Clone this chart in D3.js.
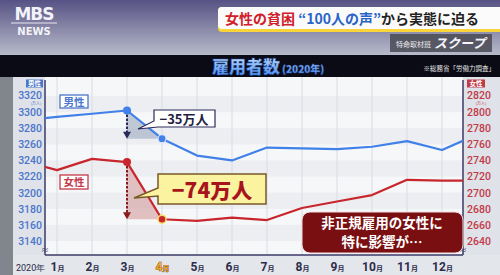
<!DOCTYPE html>
<html>
<head>
<meta charset="utf-8">
<script src="https://cdn.jsdelivr.net/npm/d3@7"></script>
<style>
  html, body { margin: 0; padding: 0; background: #fff; }
  svg { display: block; font-family: "Noto Sans CJK JP", "Noto Sans", sans-serif; }
</style>
</head>
<body>
<script>
// months: index 0 = Dec 2019, 1..12 = 2020, 13 = Jan 2021 (edges are clipped)
const monthLabels = ["1", "2", "3", "4", "5", "6", "7", "8", "9", "10", "11", "12"];
const maleValues = [3290, 3294, 3298, 3302, 3267, 3246, 3240, 3256, 3255, 3254, 3257, 3264, 3253, 3272];
const femaleValues = [2740, 2728, 2742, 2738, 2667, 2665, 2669, 2666, 2681, 2689, 2697, 2716, 2715, 2715];
const leftTicks = [3140, 3160, 3180, 3200, 3220, 3240, 3260, 3280, 3300, 3320];
const rightTicks = [2640, 2660, 2680, 2700, 2720, 2740, 2760, 2780, 2800, 2820];
const maleDrop = "−35万人";
const femaleDrop = "−74万人";

const W = 500, H = 275;
const plot = { left: 45, right: 463, top: 77, bottom: 255 };

const svg = d3.select("body").append("svg").attr("width", W).attr("height", H);
const defs = svg.append("defs");

const hdr = defs.append("linearGradient").attr("id", "hdr").attr("x1", 0).attr("y1", 0).attr("x2", 0).attr("y2", 1);
hdr.append("stop").attr("offset", "0%").attr("stop-color", "#575284");
hdr.append("stop").attr("offset", "100%").attr("stop-color", "#b9bccb");

const ttl = defs.append("linearGradient").attr("id", "ttl").attr("x1", 0).attr("y1", 0).attr("x2", 0).attr("y2", 1);
ttl.append("stop").attr("offset", "0%").attr("stop-color", "#d8ecff");
ttl.append("stop").attr("offset", "100%").attr("stop-color", "#3f86f0");

defs.append("clipPath").attr("id", "plotclip").append("rect")
  .attr("x", plot.left).attr("y", plot.top)
  .attr("width", plot.right - plot.left).attr("height", plot.bottom - plot.top);

// header
svg.append("rect").attr("width", W).attr("height", 56).attr("fill", "url(#hdr)");
svg.append("text").attr("x", 34).attr("y", 20).attr("text-anchor", "middle")
  .attr("font-family", "DejaVu Sans").attr("font-weight", 700).attr("font-size", 17)
  .attr("fill", "#f2f2f8").attr("letter-spacing", -1).text("MBS");
svg.append("line").attr("x1", 11).attr("x2", 57).attr("y1", 23).attr("y2", 23).attr("stroke", "#e8e8f0").attr("stroke-width", 1);
svg.append("text").attr("x", 34).attr("y", 35).attr("text-anchor", "middle")
  .attr("font-family", "DejaVu Sans").attr("font-weight", 700).attr("font-size", 10)
  .attr("fill", "#f2f2f8").text("NEWS");

svg.append("rect").attr("x", 218).attr("y", 7).attr("width", 290).attr("height", 25).attr("rx", 4).attr("fill", "#f9d43a");
svg.append("rect").attr("x", 218).attr("y", 7).attr("width", 290).attr("height", 22).attr("rx", 4).attr("fill", "#fbfbfb");
const banner = svg.append("text").attr("x", 225).attr("y", 24).attr("font-size", 14).attr("font-weight", 700);
banner.append("tspan").attr("fill", "#d0202a").text("女性の貧困 ");
banner.append("tspan").attr("fill", "#2a64c8").text("“100人の声”");
banner.append("tspan").attr("fill", "#222").text("から実態に迫る");

svg.append("rect").attr("x", 390).attr("y", 34).attr("width", 102).attr("height", 18).attr("fill", "#4a4a55").attr("opacity", 0.85);
svg.append("text").attr("x", 396).attr("y", 47).attr("font-size", 7).attr("fill", "#eee").text("特命取材班");
svg.append("text").attr("x", 434).attr("y", 48).attr("font-size", 13).attr("font-style", "italic")
  .attr("font-weight", 700).attr("fill", "#f4f4ff").text("スクープ");

// title bar
svg.append("rect").attr("y", 55).attr("width", W).attr("height", 22).attr("fill", "#0b0b16");
const title = svg.append("text").attr("x", 212).attr("y", 73).attr("font-weight", 900)
  .attr("fill", "url(#ttl)").attr("stroke", "#1d4aa0").attr("stroke-width", 0.4);
title.append("tspan").attr("font-size", 17).text("雇用者数");
title.append("tspan").attr("font-size", 10).attr("dx", 2).text("(2020年)");
svg.append("text").attr("x", 495).attr("y", 71).attr("text-anchor", "end").attr("font-size", 6.5)
  .attr("fill", "#e8e8e8").text("※総務省「労働力調査」");

// chart panel
svg.append("rect").attr("y", 77).attr("width", W).attr("height", H - 77).attr("fill", "#dfe2e8");
svg.append("rect").attr("y", 77).attr("width", 13).attr("height", H - 77).attr("fill", "#80858e");
svg.append("rect").attr("x", plot.left).attr("y", plot.top).attr("width", plot.right - plot.left)
  .attr("height", plot.bottom - plot.top).attr("fill", "#f6f7f9");
svg.append("rect").attr("x", 13).attr("y", plot.bottom).attr("width", W - 13).attr("height", H - plot.bottom).attr("fill", "#e3e6eb");

const x = d3.scaleLinear().domain([1, 12]).range([57, 442]);
const yL = d3.scaleLinear().domain([3140, 3320]).range([241, 96]);
const yR = d3.scaleLinear().domain([2640, 2820]).range([241, 96]);

// stripes
svg.append("g").selectAll("rect").data(leftTicks.slice(0, -1).filter((d, i) => i % 2 === 0)).join("rect")
  .attr("x", plot.left).attr("width", plot.right - plot.left)
  .attr("y", d => yL(d + 20)).attr("height", d => yL(d) - yL(d + 20))
  .attr("fill", "#eceef2");

// vertical grid
svg.append("g").selectAll("line").data(d3.range(1, 13)).join("line")
  .attr("x1", d => x(d)).attr("x2", d => x(d)).attr("y1", plot.top).attr("y2", plot.bottom)
  .attr("stroke", "#dde0e6").attr("stroke-width", 1.2);

// axes
const axL = svg.append("g").attr("transform", `translate(${plot.left},0)`)
  .call(d3.axisLeft(yL).tickValues(leftTicks).tickSize(0).tickPadding(3).tickFormat(d3.format("d")));
axL.select(".domain").remove();
axL.selectAll("text").attr("fill", "#4b76cc").attr("font-size", 10.5).attr("font-family", "Roboto, sans-serif").attr("font-weight", 500)
  .filter(d => d === 3320).attr("dy", "0.22em");

const axR = svg.append("g").attr("transform", `translate(${plot.right},0)`)
  .call(d3.axisRight(yR).tickValues(rightTicks).tickSize(0).tickPadding(4).tickFormat(d3.format("d")));
axR.select(".domain").remove();
axR.selectAll("text").attr("fill", "#c23a48").attr("font-size", 10.5).attr("font-family", "Roboto, sans-serif").attr("font-weight", 500)
  .filter(d => d === 2820).attr("dy", "0.22em");

const xAx = svg.append("g").attr("transform", `translate(0,${plot.bottom})`)
  .call(d3.axisBottom(x).tickValues(d3.range(1, 13)).tickSize(0).tickPadding(7).tickFormat(""));
xAx.select(".domain").remove();
xAx.selectAll(".tick").each(function (d) {
  const t = d3.select(this).append("text").attr("y", 16).attr("text-anchor", "middle")
    .attr("font-weight", 700).attr("font-family", "Roboto, 'Noto Sans CJK JP', sans-serif");
  t.append("tspan").attr("font-size", 12).text(monthLabels[d - 1]);
  t.append("tspan").attr("font-size", 7).text("月");
  if (d === 4) t.attr("fill", "#f5a623").attr("stroke", "#5a2a10").attr("stroke-width", 0.6).attr("paint-order", "stroke");
  else t.attr("fill", "#2c2c4c");
});
svg.append("text").attr("x", 16).attr("y", 271).attr("font-family", "Roboto, sans-serif").attr("font-size", 9)
  .attr("fill", "#2c2c4c").text("2020年");

svg.append("line").attr("x1", plot.left).attr("x2", plot.left).attr("y1", plot.top + 3).attr("y2", plot.bottom)
  .attr("stroke", "#3a3a68").attr("stroke-width", 1.5);
svg.append("line").attr("x1", plot.right).attr("x2", plot.right).attr("y1", plot.top + 3).attr("y2", plot.bottom)
  .attr("stroke", "#3a3a68").attr("stroke-width", 1.5);
svg.append("line").attr("x1", plot.left).attr("x2", plot.right).attr("y1", plot.bottom).attr("y2", plot.bottom)
  .attr("stroke", "#3a3a68").attr("stroke-width", 1.5);
[plot.left, plot.right].forEach(px => {
  svg.append("text").attr("x", px).attr("y", plot.bottom - 2).attr("text-anchor", "middle")
    .attr("font-size", 8).attr("fill", "#3a3a68").text("≈");
});

// axis headers
svg.append("rect").attr("x", 26).attr("y", 79.5).attr("width", 17).attr("height", 8).attr("fill", "#4b76cc");
svg.append("text").attr("x", 34.5).attr("y", 86.3).attr("text-anchor", "middle").attr("font-size", 6.5).attr("font-weight", 700).attr("fill", "#fff").text("男性");
svg.append("text").attr("x", 36).attr("y", 105.3).attr("text-anchor", "middle").attr("font-size", 4).attr("fill", "#4b76cc").text("(万人)");
svg.append("rect").attr("x", 467).attr("y", 79.5).attr("width", 18).attr("height", 8).attr("fill", "#c23a48");
svg.append("text").attr("x", 476).attr("y", 86.3).attr("text-anchor", "middle").attr("font-size", 6.5).attr("font-weight", 700).attr("fill", "#fff").text("女性");
svg.append("text").attr("x", 481).attr("y", 105.3).attr("text-anchor", "middle").attr("font-size", 4).attr("fill", "#c23a48").text("(万人)");

// drop triangles
svg.append("path").attr("fill", "#aab4c8").attr("opacity", 0.7)
  .attr("d", `M${x(3)},${yL(maleValues[3])}L${x(3)},${yL(maleValues[4])}L${x(4)},${yL(maleValues[4])}Z`);
svg.append("path").attr("fill", "#d8a8aa").attr("opacity", 0.7)
  .attr("d", `M${x(3)},${yR(femaleValues[3])}L${x(3)},${yR(femaleValues[4])}L${x(4)},${yR(femaleValues[4])}Z`);

// lines
const lineL = d3.line().x((d, i) => x(i)).y(d => yL(d));
const lineR = d3.line().x((d, i) => x(i)).y(d => yR(d));
const lines = svg.append("g").attr("clip-path", "url(#plotclip)");
lines.append("path").datum(maleValues).attr("d", lineL).attr("fill", "none")
  .attr("stroke", "#4080e8").attr("stroke-width", 2.2).attr("stroke-linejoin", "round");
lines.append("path").datum(femaleValues).attr("d", lineR).attr("fill", "none")
  .attr("stroke", "#c8262c").attr("stroke-width", 2.2).attr("stroke-linejoin", "round");

// dashed arrows
function dropArrow(y0, y1, color) {
  svg.append("line").attr("x1", x(3)).attr("x2", x(3)).attr("y1", y0).attr("y2", y1 - 5)
    .attr("stroke", color).attr("stroke-width", 2).attr("stroke-dasharray", "2.5,1.5");
  svg.append("path").attr("fill", color)
    .attr("d", `M${x(3) - 4},${y1 - 7}L${x(3) + 4},${y1 - 7}L${x(3)},${y1}Z`);
}
dropArrow(yL(maleValues[3]), yL(maleValues[4]), "#2a2a5a");
dropArrow(yR(femaleValues[3]), yR(femaleValues[4]), "#8a1a1e");

// points
svg.append("circle").attr("cx", x(3)).attr("cy", yL(maleValues[3])).attr("r", 4).attr("fill", "#4080e8");
svg.append("circle").attr("cx", x(4)).attr("cy", yL(maleValues[4])).attr("r", 4).attr("fill", "#4080e8").attr("stroke", "#dce8ff").attr("stroke-width", 1.2);
svg.append("circle").attr("cx", x(3)).attr("cy", yR(femaleValues[3])).attr("r", 4).attr("fill", "#c8262c");
svg.append("circle").attr("cx", x(4)).attr("cy", yR(femaleValues[4])).attr("r", 4).attr("fill", "#c8262c").attr("stroke", "#f6e060").attr("stroke-width", 1.5);

// series labels
svg.append("rect").attr("x", 60).attr("y", 95).attr("width", 28).attr("height", 13).attr("fill", "#fff").attr("stroke", "#4b76cc").attr("stroke-width", 1.3);
svg.append("text").attr("x", 74).attr("y", 106).attr("text-anchor", "middle").attr("font-size", 10.5).attr("font-weight", 700).attr("fill", "#4b76cc").text("男性");
svg.append("rect").attr("x", 60).attr("y", 175).attr("width", 28).attr("height", 14).attr("fill", "#fff").attr("stroke", "#c23a48").attr("stroke-width", 1.3);
svg.append("text").attr("x", 74).attr("y", 186).attr("text-anchor", "middle").attr("font-size", 10.5).attr("font-weight", 700).attr("fill", "#c23a48").text("女性");

// callouts
svg.append("path").attr("fill", "#fff").attr("stroke", "#2a2a5a").attr("stroke-width", 1.2)
  .attr("d", "M154,110H215V127H158L138,129L154,121Z");
svg.append("text").attr("x", 184).attr("y", 124).attr("text-anchor", "middle").attr("font-size", 13)
  .attr("font-weight", 700).attr("fill", "#1e1e44").text(maleDrop);

svg.append("path").attr("fill", "#fbf3a0").attr("stroke", "#7a5a28").attr("stroke-width", 1.5)
  .attr("d", "M158,174H266V204H158V196L134,198L158,188Z");
svg.append("text").attr("x", 212).attr("y", 198).attr("text-anchor", "middle").attr("font-size", 21)
  .attr("font-weight", 900).attr("fill", "#a8141c").text(femaleDrop);

// message box
svg.append("rect").attr("x", 302).attr("y", 212).attr("width", 161).attr("height", 41).attr("rx", 8)
  .attr("fill", "#7a0f12").attr("stroke", "#f0e0e0").attr("stroke-width", 1);
svg.append("text").attr("x", 382).attr("y", 228).attr("text-anchor", "middle").attr("font-size", 13.5)
  .attr("font-weight", 700).attr("fill", "#fff").text("非正規雇用の女性に");
svg.append("text").attr("x", 382).attr("y", 247).attr("text-anchor", "middle").attr("font-size", 13.5)
  .attr("font-weight", 700).attr("fill", "#fff").text("特に影響が…");
</script>
</body>
</html>
